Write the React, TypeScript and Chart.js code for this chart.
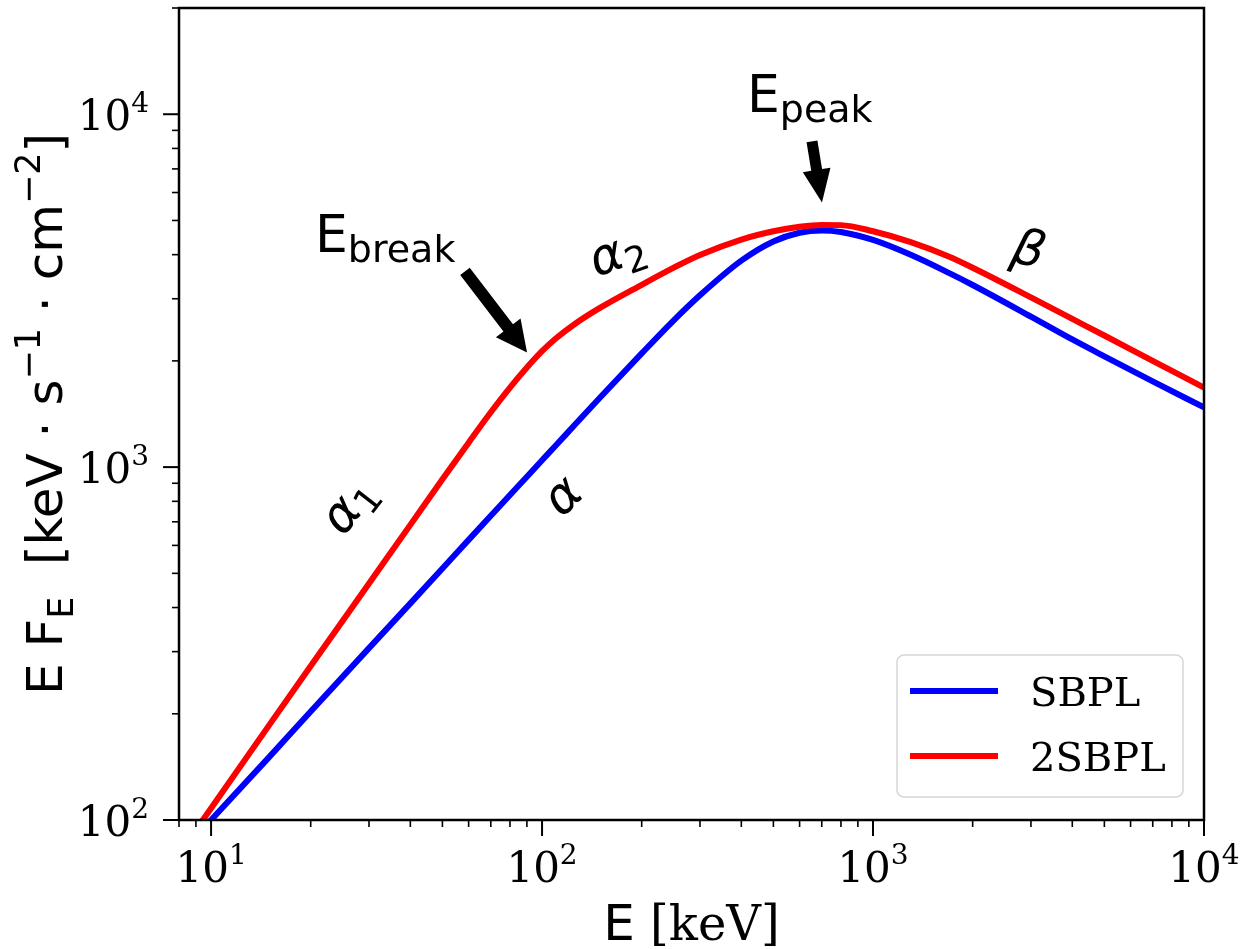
import React, { useEffect, useRef } from 'react';
import { Chart, registerables } from 'chart.js';

Chart.register(...registerables);

// Photon energy grid (keV)
const energies = [8, 10, 15, 20, 30, 40, 50, 60, 70, 80, 90, 100, 110, 125, 150, 200, 250, 300, 400, 500, 600, 700, 800, 1000, 1300, 1700, 2000, 3000, 4000, 5000, 7000, 10000];
// E F_E of the smoothly broken power law (keV s^-1 cm^-2)
const sbplFlux = [80, 100, 151, 203, 307, 411, 516, 622, 728, 834, 939, 1046, 1151, 1312, 1578, 2100, 2606, 3069, 3847, 4359, 4615, 4683, 4637, 4403, 3996, 3546, 3282, 2670, 2300, 2060, 1750, 1476];
// E F_E of the double smoothly broken power law
const twoSbplFlux = [80, 108, 186, 273, 468, 686, 924, 1173, 1430, 1680, 1915, 2130, 2314, 2537, 2830, 3286, 3675, 3991, 4414, 4659, 4797, 4856, 4850, 4660, 4340, 3945, 3673, 3027, 2630, 2360, 2000, 1681];

const seriesNames = ['SBPL', '2SBPL'];
const seriesColors = ['#0000ff', '#ff0000'];

const xMajorTicks = [10, 100, 1000, 10000];
const xTickExponents = ['1', '2', '3', '4'];
const xMinorTicks = [8, 9, 20, 30, 40, 50, 60, 70, 80, 90, 200, 300, 400, 500, 600, 700, 800, 900, 2000, 3000, 4000, 5000, 6000, 7000, 8000, 9000];
const yMajorTicks = [100, 1000, 10000];
const yTickExponents = ['2', '3', '4'];
const yMinorTicks = [200, 300, 400, 500, 600, 700, 800, 900, 2000, 3000, 4000, 5000, 6000, 7000, 8000, 9000, 20000];

const SANS = '"DejaVu Sans"';
const SERIF = '"DejaVu Serif"';

type Part = { t: string; font: string; dy: number };

function partsWidth(ctx: CanvasRenderingContext2D, parts: Part[]) {
  let w = 0;
  for (const p of parts) {
    ctx.font = p.font;
    w += ctx.measureText(p.t).width;
  }
  return w;
}

function drawParts(ctx: CanvasRenderingContext2D, parts: Part[], x0: number, baseline: number) {
  let x = x0;
  for (const p of parts) {
    ctx.font = p.font;
    ctx.fillText(p.t, x, baseline + p.dy);
    x += ctx.measureText(p.t).width;
  }
}

// Text run rotated about its centre
function drawRotated(ctx: CanvasRenderingContext2D, parts: Part[], cx: number, cy: number, deg: number, lift: number) {
  ctx.save();
  ctx.translate(cx, cy);
  ctx.rotate((deg * Math.PI) / 180);
  const w = partsWidth(ctx, parts);
  drawParts(ctx, parts, -w / 2, lift);
  ctx.restore();
}

function drawArrow(ctx: CanvasRenderingContext2D, x0: number, y0: number, x1: number, y1: number, shaft: number, headW: number, headL: number) {
  const dx = x1 - x0;
  const dy = y1 - y0;
  const len = Math.hypot(dx, dy);
  const ux = dx / len;
  const uy = dy / len;
  const nx = -uy;
  const ny = ux;
  const bx = x1 - ux * headL;
  const by = y1 - uy * headL;
  ctx.beginPath();
  ctx.moveTo(x0 + nx * shaft / 2, y0 + ny * shaft / 2);
  ctx.lineTo(bx + nx * shaft / 2, by + ny * shaft / 2);
  ctx.lineTo(bx + nx * headW / 2, by + ny * headW / 2);
  ctx.lineTo(x1, y1);
  ctx.lineTo(bx - nx * headW / 2, by - ny * headW / 2);
  ctx.lineTo(bx - nx * shaft / 2, by - ny * shaft / 2);
  ctx.lineTo(x0 - nx * shaft / 2, y0 - ny * shaft / 2);
  ctx.closePath();
  ctx.fill();
}

const decorPlugin = {
  id: 'decor',
  afterDraw(chart: any) {
    const { ctx, chartArea: a, scales } = chart;
    const xs = scales.x;
    const ys = scales.y;
    const P = (e: number, f: number) => [xs.getPixelForValue(e), ys.getPixelForValue(f)];
    ctx.save();
    ctx.fillStyle = '#000';
    ctx.strokeStyle = '#000';

    // axes frame
    ctx.lineWidth = 2.5;
    ctx.strokeRect(a.left, a.top, a.right - a.left, a.bottom - a.top);

    // ticks
    ctx.lineCap = 'butt';
    const tick = (x0: number, y0: number, x1: number, y1: number, lw: number) => {
      ctx.lineWidth = lw;
      ctx.beginPath();
      ctx.moveTo(x0, y0);
      ctx.lineTo(x1, y1);
      ctx.stroke();
    };
    for (const v of xMajorTicks) {
      const px = xs.getPixelForValue(v);
      tick(px, a.bottom, px, a.bottom + 16, 2);
    }
    for (const v of xMinorTicks) {
      const px = xs.getPixelForValue(v);
      tick(px, a.bottom, px, a.bottom + 7, 1.6);
    }
    for (const v of yMajorTicks) {
      const py = ys.getPixelForValue(v);
      tick(a.left, py, a.left - 16, py, 2);
    }
    for (const v of yMinorTicks) {
      const py = ys.getPixelForValue(v);
      tick(a.left, py, a.left - 7, py, 1.6);
    }

    // tick labels 10^n
    ctx.textAlign = 'left';
    ctx.textBaseline = 'alphabetic';
    xMajorTicks.forEach((v, i) => {
      const parts: Part[] = [
        { t: '10', font: `42px ${SERIF}`, dy: 0 },
        { t: xTickExponents[i], font: `28px ${SERIF}`, dy: -18 },
      ];
      const w = partsWidth(ctx, parts);
      drawParts(ctx, parts, xs.getPixelForValue(v) - w / 2, a.bottom + 62);
    });
    yMajorTicks.forEach((v, i) => {
      const parts: Part[] = [
        { t: '10', font: `42px ${SERIF}`, dy: 0 },
        { t: yTickExponents[i], font: `28px ${SERIF}`, dy: -18 },
      ];
      const w = partsWidth(ctx, parts);
      drawParts(ctx, parts, a.left - 30 - w, ys.getPixelForValue(v) + 16);
    });

    // x axis title
    const xt: Part[] = [
      { t: 'E', font: `50px ${SANS}`, dy: 0 },
      { t: ' [keV]', font: `48px ${SERIF}`, dy: 0 },
    ];
    const xtw = partsWidth(ctx, xt);
    drawParts(ctx, xt, (a.left + a.right) / 2 - xtw / 2, 940);

    // y axis title
    const yt: Part[] = [
      { t: 'E F', font: `50px ${SANS}`, dy: 0 },
      { t: 'E', font: `35px ${SANS}`, dy: 11 },
      { t: '  [keV', font: `50px ${SANS}`, dy: 0 },
      { t: ' \u22C5 ', font: `50px ${SANS}`, dy: 0 },
      { t: 's', font: `50px ${SANS}`, dy: 0 },
      { t: '\u22121', font: `35px ${SANS}`, dy: -22 },
      { t: ' \u22C5 ', font: `50px ${SANS}`, dy: 0 },
      { t: 'cm', font: `50px ${SANS}`, dy: 0 },
      { t: '\u22122', font: `35px ${SANS}`, dy: -22 },
      { t: ']', font: `50px ${SANS}`, dy: 0 },
    ];
    ctx.save();
    ctx.translate(62, (a.top + a.bottom) / 2);
    ctx.rotate(-Math.PI / 2);
    const ytw = partsWidth(ctx, yt);
    drawParts(ctx, yt, -ytw / 2, 0);
    ctx.restore();

    // annotations
    const [bx, by] = P(20.6, 4060);
    drawParts(ctx, [
      { t: 'E', font: `52px ${SANS}`, dy: 0 },
      { t: 'break', font: `38px ${SANS}`, dy: 10 },
    ], bx, by);
    const [px, py] = P(416, 10130);
    drawParts(ctx, [
      { t: 'E', font: `52px ${SANS}`, dy: 0 },
      { t: 'peak', font: `38px ${SANS}`, dy: 10 },
    ], px, py);

    const [t1x, t1y] = P(58.5, 3585);
    const [h1x, h1y] = P(90.1, 2112);
    drawArrow(ctx, t1x, t1y, h1x, h1y, 12, 31, 31);
    const [t2x, t2y] = P(654, 8375);
    const [h2x, h2y] = P(701, 5623);
    drawArrow(ctx, t2x, t2y, h2x, h2y, 11, 28, 33);

    const [a1x, a1y] = P(26.5, 767);
    drawRotated(ctx, [
      { t: '\u03B1', font: `italic 50px ${SANS}`, dy: 0 },
      { t: '1', font: `36px ${SANS}`, dy: 9 },
    ], a1x, a1y, -52, 12);
    const [ax, ay] = P(117, 819);
    drawRotated(ctx, [{ t: '\u03B1', font: `italic 50px ${SANS}`, dy: 0 }], ax, ay, -45, 13);
    const [a2x, a2y] = P(170, 3953);
    drawRotated(ctx, [
      { t: '\u03B1', font: `italic 50px ${SANS}`, dy: 0 },
      { t: '2', font: `36px ${SANS}`, dy: 9 },
    ], a2x, a2y, -20, 12);
    const [btx, bty] = P(2958, 4140);
    drawRotated(ctx, [{ t: '\u03B2', font: `italic 50px ${SANS}`, dy: 0 }], btx, bty, 15, 16);

    // legend
    const lw = 286;
    const lh = 142;
    const lx = a.right - 21 - lw;
    const ly = a.bottom - 23 - lh;
    ctx.beginPath();
    ctx.roundRect(lx, ly, lw, lh, 7);
    ctx.fillStyle = 'rgba(255,255,255,0.8)';
    ctx.fill();
    ctx.strokeStyle = '#d6d6d6';
    ctx.lineWidth = 1.5;
    ctx.stroke();
    seriesNames.forEach((name, i) => {
      const yy = ly + 36 + i * 65;
      ctx.strokeStyle = seriesColors[i];
      ctx.lineWidth = 6;
      ctx.beginPath();
      ctx.moveTo(lx + 13, yy);
      ctx.lineTo(lx + 101, yy);
      ctx.stroke();
      ctx.fillStyle = '#000';
      ctx.font = `40px ${SERIF}`;
      ctx.fillText(name, lx + 133, yy + 15);
    });

    ctx.restore();
  },
};

export default function App() {
  const canvasRef = useRef<HTMLCanvasElement | null>(null);

  useEffect(() => {
    const canvas = canvasRef.current;
    if (!canvas) return;
    const toPoints = (vals: number[]) => energies.map((e, i) => ({ x: e, y: vals[i] }));
    const chart = new Chart(canvas, {
      type: 'line',
      data: {
        datasets: [
          {
            label: seriesNames[1],
            data: toPoints(twoSbplFlux),
            borderColor: seriesColors[1],
            borderWidth: 6,
            pointRadius: 0,
            cubicInterpolationMode: 'monotone',
            fill: false,
            clip: 0,
          },
          {
            label: seriesNames[0],
            data: toPoints(sbplFlux),
            borderColor: seriesColors[0],
            borderWidth: 6,
            pointRadius: 0,
            cubicInterpolationMode: 'monotone',
            fill: false,
            clip: 0,
          },
        ],
      },
      options: {
        animation: false,
        responsive: false,
        events: [],
        layout: { padding: { left: 0, right: 37, top: 8, bottom: 0 } },
        plugins: { legend: { display: false }, tooltip: { enabled: false }, title: { display: false } },
        scales: {
          x: {
            type: 'logarithmic',
            min: 8,
            max: 10000,
            grid: { display: false },
            border: { display: false },
            ticks: { display: false },
            afterFit: (s: any) => { s.height = 129; },
          },
          y: {
            type: 'logarithmic',
            min: 100,
            max: 20000,
            grid: { display: false },
            border: { display: false },
            ticks: { display: false },
            afterFit: (s: any) => { s.width = 179; },
          },
        },
      },
      plugins: [decorPlugin],
    } as any);
    return () => chart.destroy();
  }, []);

  return (
    <div style={{ position: 'fixed', left: 0, top: 0, width: 1241, height: 949, background: '#fff' }}>
      <canvas ref={canvasRef} width={1241} height={949} style={{ display: 'block' }} />
    </div>
  );
}
